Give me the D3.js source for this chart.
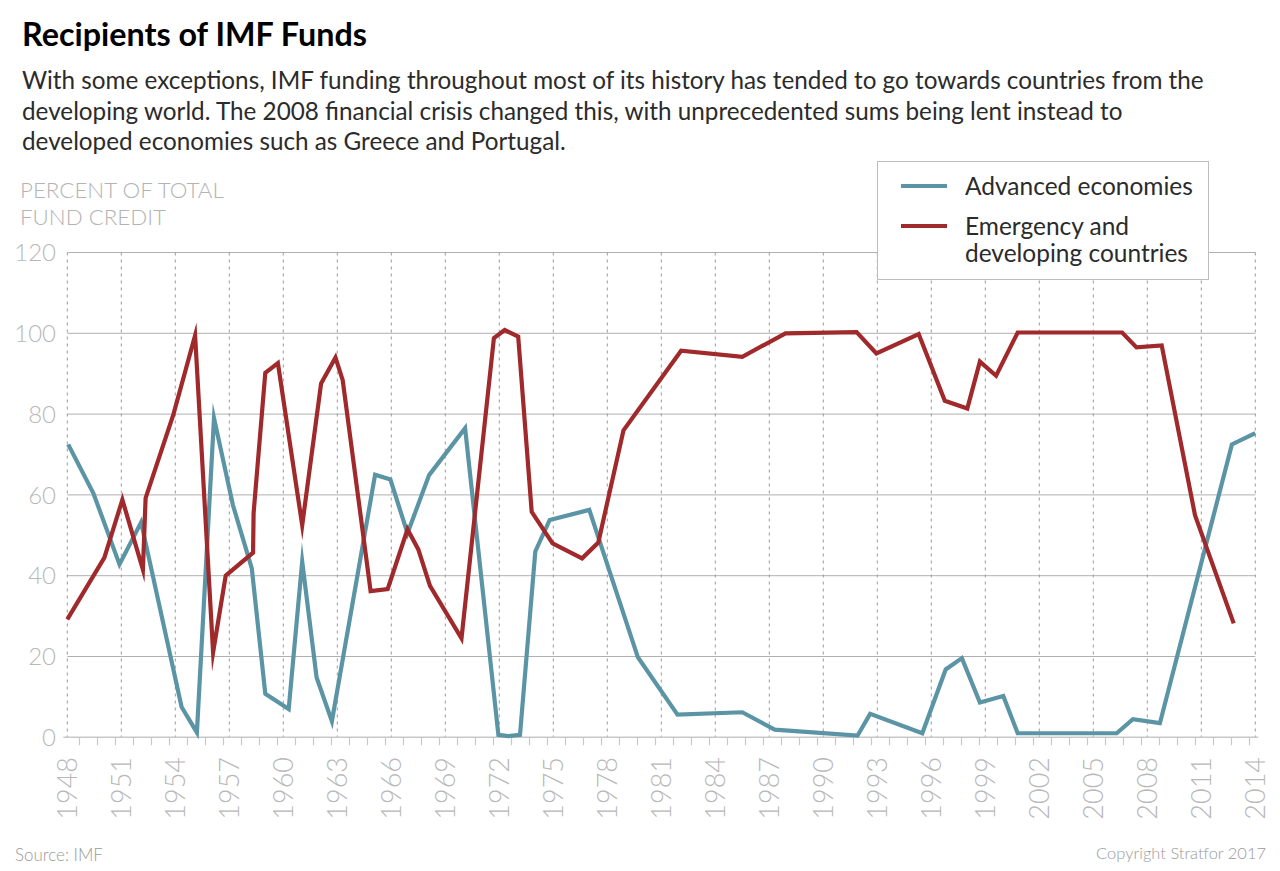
<!DOCTYPE html>
<html>
<head>
<meta charset="utf-8">
<script src="https://cdn.jsdelivr.net/npm/d3@7/dist/d3.min.js"></script>
<style>
  html, body { margin: 0; padding: 0; background: #fff; }
  svg { display: block; font-family: Lato, "Open Sans", sans-serif; }
</style>
</head>
<body>
<svg id="chart" width="1280" height="871"></svg>
<script>
// values (fractional year, percent of total fund credit)
const advanced = [
  [1948.05, 72.5], [1949.45, 60.4], [1950.9, 42.8], [1952.1, 53.2], [1954.35, 7.5],
  [1955.2, 1.2], [1956.15, 79], [1957.2, 57.5], [1958.25, 41.8], [1959.0, 10.8],
  [1960.3, 7], [1961.05, 43.5], [1961.85, 14.8], [1962.7, 4], [1965.1, 65],
  [1965.95, 63.8], [1966.9, 50.5], [1968.1, 64.9], [1970.1, 76.5], [1971.95, 0.6],
  [1972.5, 0.3], [1973.15, 0.6], [1974.0, 46], [1974.8, 53.8], [1977.0, 56.3],
  [1979.7, 19.8], [1981.9, 5.6], [1985.5, 6.2], [1987.3, 1.9], [1991.9, 0.4],
  [1992.6, 5.8], [1995.5, 1], [1996.8, 16.8], [1997.7, 19.6], [1998.7, 8.6],
  [2000.0, 10.2], [2000.8, 1], [2006.3, 1], [2007.2, 4.5], [2008.7, 3.5],
  [2012.7, 72.5], [2014.0, 75.3]
];
const emerging = [
  [1948.0, 29.2], [1950.06, 44.5], [1951.06, 58.8], [1952.2, 41.5], [1952.35, 59.2],
  [1953.9, 80], [1955.1, 99.5], [1956.1, 21], [1956.8, 40], [1958.32, 45.7],
  [1958.35, 55.5], [1959.0, 90.2], [1959.7, 92.6], [1961.05, 52.5], [1962.1, 87.6],
  [1962.9, 94], [1963.3, 88.4], [1964.85, 36.2], [1965.8, 36.7], [1966.9, 51.5],
  [1967.5, 46.5], [1968.15, 37.5], [1969.9, 24.5], [1971.7, 98.8], [1972.3, 100.8],
  [1973.05, 99.2], [1973.8, 55.8], [1974.96, 48], [1976.6, 44.3], [1977.5, 48.2],
  [1978.9, 76], [1982.1, 95.7], [1985.5, 94.2], [1987.9, 100], [1991.85, 100.3],
  [1992.95, 95], [1995.3, 99.8], [1996.75, 83.3], [1998.0, 81.4], [1998.7, 93],
  [1999.6, 89.5], [2000.8, 100.2], [2006.6, 100.2], [2007.4, 96.5], [2008.8, 97],
  [2010.65, 55], [2012.8, 28.2]
];
const yTicks = [0, 20, 40, 60, 80, 100, 120];
const xLabelYears = d3.range(1948, 2015, 3);
const minorTickYears = d3.range(1948.65, 2014, 1);
const seriesNames = ["Advanced economies", "Emergency and\ndeveloping countries"];
const seriesColours = ["#5b95a5", "#a0292b"];

const titleText = "Recipients of IMF Funds";
const subtitleLines = [
  "With some exceptions, IMF funding throughout most of its history has tended to go towards countries from the",
  "developing world. The 2008 financial crisis changed this, with unprecedented sums being lent instead to",
  "developed economies such as Greece and Portugal."
];

const svg = d3.select("#chart");

const plot = { left: 67.3, right: 1255.3, top: 252.5, bottom: 737.3 };

const x = d3.scaleLinear().domain([1948, 2014]).range([plot.left, plot.right]);
const y = d3.scaleLinear().domain([0, 120]).range([plot.bottom, plot.top]);

// shrink/grow a text so it measures the given width
const fitWidth = (sel, w) => {
  const fs = parseFloat(sel.attr("font-size"));
  const len = sel.node().getComputedTextLength();
  sel.attr("font-size", fs * w / len);
  return fs * w / len;
};

// title + subtitle
const title = svg.append("text")
  .attr("x", 22).attr("y", 46)
  .attr("font-size", 30).attr("font-weight", 700).attr("fill", "#000")
  .text(titleText);
fitWidth(title, 345);

const sub0 = svg.append("text")
  .attr("x", 22).attr("y", 89)
  .attr("font-size", 22).attr("fill", "#2b2b2b")
  .text(subtitleLines[0]);
const subSize = fitWidth(sub0, 1182);
svg.selectAll(".sub-rest")
  .data(subtitleLines.slice(1))
  .join("text")
  .attr("class", "sub-rest")
  .attr("x", 22)
  .attr("y", (_, i) => 89 + (i + 1) * 30.5)
  .attr("font-size", subSize)
  .attr("fill", "#2b2b2b")
  .text(d => d);

// axis title
const yTitle = svg.selectAll(".y-title")
  .data(["PERCENT OF TOTAL", "FUND CREDIT"])
  .join("text")
  .attr("class", "y-title")
  .attr("x", 20)
  .attr("y", (_, i) => 198 + i * 27)
  .attr("font-size", 22)
  .attr("font-weight", 300)
  .attr("fill", "#b3b3b3")
  .text(d => d);
const yTitleSize = fitWidth(d3.select(yTitle.nodes()[0]), 204);
yTitle.attr("font-size", yTitleSize);

// gridlines
const grid = svg.append("g");
grid.selectAll(".h-grid")
  .data(yTicks.filter(d => d > 0))
  .join("line")
  .attr("class", "h-grid")
  .attr("x1", plot.left).attr("x2", plot.right)
  .attr("y1", d => y(d)).attr("y2", d => y(d))
  .attr("stroke", "#b0b0b0").attr("stroke-width", 1);

grid.selectAll(".v-grid")
  .data(xLabelYears)
  .join("line")
  .attr("class", "v-grid")
  .attr("x1", d => x(d)).attr("x2", d => x(d))
  .attr("y1", plot.top).attr("y2", plot.bottom)
  .attr("stroke", "#9a9a9a").attr("stroke-width", 1)
  .attr("stroke-dasharray", "3,4");

// x axis baseline + minor ticks
const xAxis = svg.append("g")
  .attr("transform", `translate(0,${plot.bottom})`)
  .call(d3.axisBottom(x).tickValues(minorTickYears).tickSize(8).tickFormat(""));
xAxis.select(".domain").attr("stroke", "#c8c8c8").attr("stroke-width", 1.5)
  .attr("d", `M${plot.left - 4},0H${plot.right + 3}`);
xAxis.selectAll(".tick line").attr("stroke", "#c8c8c8").attr("stroke-width", 1.2);

// x labels
svg.selectAll(".x-label")
  .data(xLabelYears)
  .join("text")
  .attr("class", "x-label")
  .attr("transform", d => `translate(${x(d)},757)rotate(-90)`)
  .attr("text-anchor", "end")
  .attr("dy", "0.36em")
  .attr("font-size", 27)
  .attr("font-weight", 300)
  .attr("fill", "#b8b8b8")
  .text(d => d);

// y labels
svg.selectAll(".y-label")
  .data(yTicks)
  .join("text")
  .attr("class", "y-label")
  .attr("x", 56)
  .attr("y", d => y(d))
  .attr("dy", "0.36em")
  .attr("text-anchor", "end")
  .attr("font-size", 24)
  .attr("font-weight", 300)
  .attr("fill", "#b8b8b8")
  .text(d => d);

// lines
const line = d3.line().x(d => x(d[0])).y(d => y(d[1]));
svg.selectAll(".series")
  .data([advanced, emerging])
  .join("path")
  .attr("class", "series")
  .attr("fill", "none")
  .attr("stroke", (_, i) => seriesColours[i])
  .attr("stroke-width", 4.2)
  .attr("stroke-linejoin", "miter")
  .attr("stroke-miterlimit", 12)
  .attr("d", d => line(d));

// legend
const legend = svg.append("g");
legend.append("rect")
  .attr("x", 877.5).attr("y", 161.5)
  .attr("width", 331).attr("height", 118)
  .attr("fill", "#fff").attr("stroke", "#bdbdbd").attr("stroke-width", 1);

const legendRows = legend.selectAll(".legend-row")
  .data(seriesNames)
  .join("g")
  .attr("class", "legend-row")
  .attr("transform", (_, i) => `translate(0,${i === 0 ? 186 : 226})`);

legendRows.append("line")
  .attr("x1", 901).attr("x2", 947)
  .attr("stroke", (_, i) => seriesColours[i])
  .attr("stroke-width", 4.2);

const legendTexts = legendRows.append("text")
  .attr("x", 965)
  .attr("font-size", 23)
  .attr("fill", "#2b2b2b");
legendTexts.selectAll("tspan")
  .data(d => d.split("\n"))
  .join("tspan")
  .attr("x", 965)
  .attr("y", (_, j) => 8.5 + j * 27)
  .text(s => s);
const legendSize = fitWidth(d3.select(legendTexts.nodes()[0]), 228);
legendTexts.attr("font-size", legendSize);

// footer
const source = svg.append("text")
  .attr("x", 15).attr("y", 861)
  .attr("font-size", 16).attr("font-weight", 300).attr("fill", "#9a9a9a")
  .text("Source: IMF");
fitWidth(source, 88);
const copyright = svg.append("text")
  .attr("x", 1266).attr("y", 859)
  .attr("text-anchor", "end")
  .attr("font-size", 16).attr("font-weight", 300).attr("fill", "#9a9a9a")
  .text("Copyright Stratfor 2017");
fitWidth(copyright, 170);
</script>
</body>
</html>
